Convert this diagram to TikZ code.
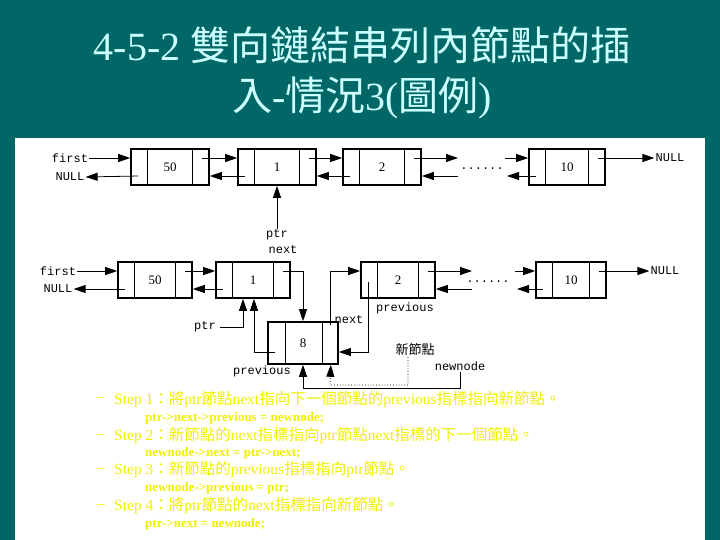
\documentclass[tikz,border=0pt]{standalone}
\usepackage{fontspec}
\setmainfont{Liberation Serif}
\newfontfamily\zh{Noto Sans CJK TC}
\newfontfamily\lab{Liberation Mono}
\usetikzlibrary{arrows.meta}
\definecolor{bgteal}{RGB}{0,102,102}
\definecolor{titlec}{RGB}{204,255,255}
\definecolor{stepc}{RGB}{240,240,0}
\tikzset{
  arr/.style={-{Triangle[length=12pt,width=8pt]},line width=0.8pt},
  box/.style={draw,line width=1.6pt,minimum height=36pt,inner sep=0pt,font=\fontsize{13}{13}\selectfont},
  lbl/.style={font=\lab\fontsize{12}{12}\selectfont,inner sep=1pt},
  stp/.style={anchor=west,text=stepc,inner sep=0pt,font=\fontsize{15.5}{15.5}\selectfont},
  cde/.style={anchor=west,text=stepc,inner sep=0pt,font=\bfseries\fontsize{13}{13}\selectfont}
}
\newcommand\divs[1]{\draw[line width=1.2pt] ([xshift=17pt]#1.north west) -- ([xshift=17pt]#1.south west);
  \draw[line width=1.2pt] ([xshift=-17pt]#1.north east) -- ([xshift=-17pt]#1.south east);}
\begin{document}
\begin{tikzpicture}[x=1pt,y=-1pt]
\fill[bgteal] (0,0) rectangle (720,540);
\useasboundingbox (0,0) rectangle (720,540);
\fill[white] (15,138) rectangle (705,540);
\node[text=titlec,font=\fontsize{40}{40}\selectfont] (t1) at (362,45) {4-5-2 {\zh 雙向鏈結串列內節點的插}};
\node[text=titlec,font=\fontsize{40}{40}\selectfont] (t2) at (362,98) {{\zh 入}-{\zh 情況}3({\zh 圖例})};
% row 1
\node[box,minimum width=78pt] (r1b50) at (170,167) {50};
\node[box,minimum width=78pt] (r1b1) at (277,167) {1};
\node[box,minimum width=78pt] (r1b2) at (382,167) {2};
\node[box,minimum width=76pt] (r1b10) at (567,167) {10};
\divs{r1b50}\divs{r1b1}\divs{r1b2}\divs{r1b10}
\node[lbl] (r1first) at (70,158) {first};
\node[lbl] (r1null) at (70,177) {NULL};
\node[lbl] (r1dots) at (482,169) {......};
\node[lbl] (r1nullr) at (670,158) {NULL};
\node[lbl] (r1ptr) at (277,235) {ptr};
\node[lbl] (r1next) at (283,250) {next};
\coordinate (r1a) at (458,158); \coordinate (r1b) at (505,158);
\coordinate (r1c) at (458,176); \coordinate (r1d) at (507,176);
\draw[arr] (r1first.east) -- ([yshift=9pt]r1b50.west);
\draw[arr] ([xshift=8pt,yshift=-9pt]r1b50.west) -- (r1null.east);
\draw[arr] ([xshift=-8pt,yshift=9pt]r1b50.east) -- ([yshift=9pt]r1b1.west);
\draw[arr] ([xshift=8pt,yshift=-9pt]r1b1.west) -- ([yshift=-9pt]r1b50.east);
\draw[arr] ([xshift=-8pt,yshift=9pt]r1b1.east) -- ([yshift=9pt]r1b2.west);
\draw[arr] ([xshift=8pt,yshift=-9pt]r1b2.west) -- ([yshift=-9pt]r1b1.east);
\draw[arr] ([xshift=-8pt,yshift=9pt]r1b2.east) -- (r1a);
\draw[arr] (r1c) -- ([yshift=-9pt]r1b2.east);
\draw[arr] (r1b) -- ([yshift=9pt]r1b10.west);
\draw[arr] ([xshift=8pt,yshift=-9pt]r1b10.west) -- (r1d);
\draw[arr] ([xshift=-8pt,yshift=9pt]r1b10.east) -- (r1nullr.west);
\draw[arr] (r1ptr.north) -- (r1b1.south);
% row 2
\node[box,minimum width=74pt] (r2b50) at (155,280) {50};
\node[box,minimum width=74pt] (r2b1) at (253,280) {1};
\node[box,minimum width=74pt] (r2b2) at (398,280) {2};
\node[box,minimum width=70pt] (r2b10) at (571,280) {10};
\node[box,minimum width=70pt,minimum height=42pt] (n8) at (303,343) {8};
\divs{r2b50}\divs{r2b1}\divs{r2b2}\divs{r2b10}
\draw[line width=1.2pt] ([xshift=18pt]n8.north west) -- ([xshift=18pt]n8.south west);
\draw[line width=1.2pt] ([xshift=-16pt]n8.north east) -- ([xshift=-16pt]n8.south east);
\node[lbl] (r2first) at (58,271) {first};
\node[lbl] (r2null) at (58,289) {NULL};
\node[lbl] (r2dots) at (488,282) {......};
\node[lbl] (r2nullr) at (665,271) {NULL};
\coordinate (r2a) at (472,271); \coordinate (r2b) at (515,271);
\coordinate (r2c) at (472,289); \coordinate (r2d) at (517,289);
\draw[arr] (r2first.east) -- ([yshift=9pt]r2b50.west);
\draw[arr] ([xshift=8pt,yshift=-9pt]r2b50.west) -- (r2null.east);
\draw[arr] ([xshift=-8pt,yshift=9pt]r2b50.east) -- ([yshift=9pt]r2b1.west);
\draw[arr] ([xshift=8pt,yshift=-9pt]r2b1.west) -- ([yshift=-9pt]r2b50.east);
\draw[arr] ([xshift=-8pt,yshift=9pt]r2b2.east) -- (r2a);
\draw[arr] (r2c) -- ([yshift=-9pt]r2b2.east);
\draw[arr] (r2b) -- ([yshift=9pt]r2b10.west);
\draw[arr] ([xshift=8pt,yshift=-9pt]r2b10.west) -- (r2d);
\draw[arr] ([xshift=-8pt,yshift=9pt]r2b10.east) -- (r2nullr.west);
\draw[arr] ([xshift=-8pt,yshift=9pt]r2b1.east) -| (n8.north);
\draw[arr] ([xshift=-8pt,yshift=-4pt]n8.north east) |- ([yshift=9pt]r2b2.west);
\draw[arr] ([xshift=8pt,yshift=-2pt]r2b2.west) |- ([yshift=-9pt]n8.east);
\draw[arr] ([xshift=8pt,yshift=-9pt]n8.west) -| ([xshift=1pt]r2b1.south);
\node[lbl] (r2ptr) at (205,327) {ptr};
\draw[arr] ([xshift=3pt]r2ptr.east) -| ([xshift=-10pt]r2b1.south);
\node[lbl] (n8next) at (349,320) {next};
\node[lbl] (b2prev) at (405,308) {previous};
\node[lbl] (n8prev) at (262,371) {previous};
\node[inner sep=1pt,font=\zh\fontsize{13}{13}\selectfont] (xin) at (415,350) {新節點};
\node[lbl] (newnode) at (460,366) {newnode};
\coordinate (bk) at (303,388);
\draw[arr] (newnode.south) |- (bk) -- (n8.south);
\coordinate (dk) at (330,385);
\draw[arr,dotted,line width=0.9pt] ([xshift=-7pt]xin.south) |- (dk) -- ([xshift=-8pt]n8.south east);
% steps
\foreach \yy in {400,436,470,506} {\node[stp] (d\yy) at (97,\yy) {–};}
\node[stp] (s1) at (114,400) {Step 1{\zh ：將}ptr{\zh 節點}next{\zh 指向下一個節點的}previous{\zh 指標指向新節點。}};
\node[cde] (c1) at (145,418) {ptr->next->previous = newnode;};
\node[stp] (s2) at (114,436) {Step 2{\zh ：新節點的}next{\zh 指標指向}ptr{\zh 節點}next{\zh 指標的下一個節點。}};
\node[cde] (c2) at (145,453) {newnode->next = ptr->next;};
\node[stp] (s3) at (114,470) {Step 3{\zh ：新節點的}previous{\zh 指標指向}ptr{\zh 節點。}};
\node[cde] (c3) at (145,488) {newnode->previous = ptr;};
\node[stp] (s4) at (114,506) {Step 4{\zh ：將}ptr{\zh 節點的}next{\zh 指標指向新節點。}};
\node[cde] (c4) at (145,524) {ptr->next = newnode;};
\end{tikzpicture}
\end{document}
